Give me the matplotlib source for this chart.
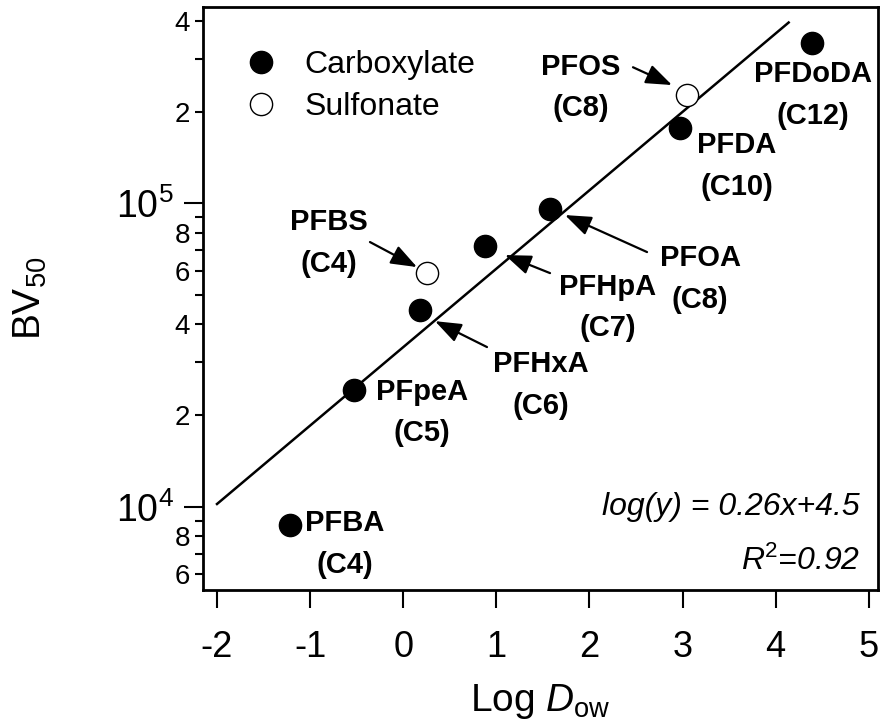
import matplotlib
matplotlib.use('Agg')
import matplotlib.pyplot as plt
import numpy as np
from matplotlib.ticker import FixedLocator, FixedFormatter, NullLocator

plt.rcParams['font.family'] = ['Liberation Sans', 'DejaVu Sans']
plt.rcParams['mathtext.fontset'] = 'custom'
plt.rcParams['mathtext.rm'] = 'Liberation Sans'
plt.rcParams['mathtext.it'] = 'Liberation Sans:italic'
plt.rcParams['mathtext.bf'] = 'Liberation Sans:bold'

# ---------------- data ----------------
carb_names = ['PFBA', 'PFpeA', 'PFHxA', 'PFHpA', 'PFOA', 'PFDA', 'PFDoDA']
carb_x = [-1.22, -0.53, 0.18, 0.88, 1.58, 2.97, 4.39]
carb_y = [8700, 24300, 44500, 72300, 95800, 177000, 338000]

sulf_names = ['PFBS', 'PFOS']
sulf_x = [0.26, 3.05]
sulf_y = [58900, 227500]

fit_slope = 0.2585
fit_intercept = 4.526
fit_x = [-2.0, 4.14]

x_ticks = [-2, -1, 0, 1, 2, 3, 4, 5]
y_major = [1e4, 1e5]
y_major_labels = [r'$10^4$', r'$10^5$']
y_minor = [6e3, 7e3, 8e3, 9e3, 2e4, 3e4, 4e4, 5e4, 6e4, 7e4, 8e4, 9e4, 2e5, 3e5, 4e5]
y_minor_labels = ['6', '', '8', '', '2', '', '4', '', '6', '', '8', '', '2', '', '4']

# label text, centre position (x, y)
labels = {
    'PFBA':   ('PFBA\n(C4)',    -0.625, 7540),
    'PFpeA':  ('PFpeA\n(C5)',    0.202, 20500),
    'PFHxA':  ('PFHxA\n(C6)',    1.480, 25200),
    'PFBS':   ('PFBS\n(C4)',    -0.797, 74000),
    'PFHpA':  ('PFHpA\n(C7)',    2.200, 45500),
    'PFOA':   ('PFOA\n(C8)',     3.188, 56300),
    'PFOS':   ('PFOS\n(C8)',     1.910, 240900),
    'PFDA':   ('PFDA\n(C10)',    3.585, 132700),
    'PFDoDA': ('PFDoDA\n(C12)',  4.402, 227500),
}
# arrows: tail (x, y) -> head (x, y)
arrows = [
    ((-0.357, 74560), (0.148, 61660)),
    ((0.900, 33600), (0.342, 40900)),
    ((1.577, 58900), (1.093, 67540)),
    ((2.619, 69100), (1.738, 91500)),
    ((2.468, 281000), (2.887, 245500)),
]

# ---------------- figure ----------------
fig = plt.figure(figsize=(8.82, 7.28), dpi=100)
ax = fig.add_axes([0.2302, 0.1896, 0.7653, 0.8004])

fx = np.array(fit_x)
ax.plot(fx, 10 ** (fit_slope * fx + fit_intercept), color='black', lw=1.8, zorder=2)

ax.plot(carb_x, carb_y, linestyle='none', marker='o', ms=16, mfc='black',
        mec='black', mew=1, zorder=3, label='Carboxylate')
ax.plot(sulf_x, sulf_y, linestyle='none', marker='o', ms=16, mfc='white',
        mec='black', mew=1, zorder=3, label='Sulfonate')

for name, (txt, tx, ty) in labels.items():
    ax.text(tx, ty, txt, ha='center', va='center', fontsize=21,
            fontweight='bold', linespacing=1.6, zorder=4)

for (t, h) in arrows:
    ax.annotate('', xy=h, xytext=t,
                arrowprops=dict(arrowstyle='-|>,head_length=0.8,head_width=0.3',
                                mutation_scale=20, lw=1.6, color='black',
                                shrinkA=0, shrinkB=0), zorder=4)

ax.set_yscale('log')
ax.set_xlim(-2.15, 5.1)
ax.set_ylim(5316, 4.43e5)

ax.set_xticks(x_ticks)
ax.set_xticklabels([str(v) for v in x_ticks])
ax.xaxis.set_minor_locator(NullLocator())
ax.yaxis.set_major_locator(FixedLocator(y_major))
ax.yaxis.set_major_formatter(FixedFormatter(y_major_labels))
ax.yaxis.set_minor_locator(FixedLocator(y_minor))
ax.yaxis.set_minor_formatter(FixedFormatter(y_minor_labels))

ax.tick_params(axis='y', which='major', length=14, width=1.5, labelsize=27, pad=7)
ax.tick_params(axis='y', which='minor', length=6, width=1.5, labelsize=20, pad=3.5)
ax.tick_params(axis='x', which='major', length=13, width=1.5, labelsize=26, pad=16)

for s in ax.spines.values():
    s.set_linewidth(2)

ax.set_xlabel(r'Log $\mathit{D}_{\mathrm{ow}}$', fontsize=28, labelpad=12)
ax.set_ylabel(r'BV$_{50}$', fontsize=28, labelpad=48)

ax.text(0.973, 0.1287, 'log(y) = 0.26x+4.5', transform=ax.transAxes, ha='right',
        va='baseline', fontsize=23, style='italic')
ax.text(0.973, 0.0343, r'R$^{\mathit{2}}$=0.92', transform=ax.transAxes, ha='right',
        va='baseline', fontsize=23, style='italic')

ax.legend(loc='upper left', bbox_to_anchor=(0.0622, 0.926), frameon=False,
          fontsize=23, handlelength=1.0, handletextpad=0.85, labelspacing=0.36,
          borderpad=0, borderaxespad=0, numpoints=1)

fig.savefig('out.png', dpi=100)
